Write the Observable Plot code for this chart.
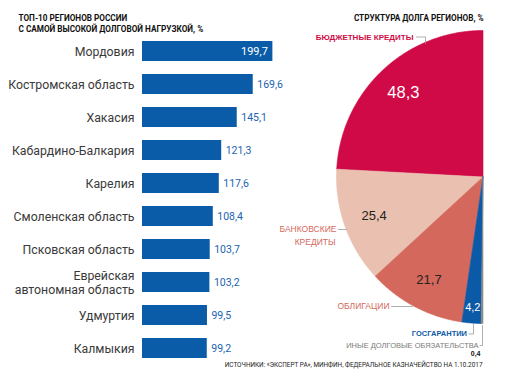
<!DOCTYPE html>
<html>
<head>
<meta charset="utf-8">
<script src="https://cdn.jsdelivr.net/npm/d3@7"></script>
<script src="https://cdn.jsdelivr.net/npm/@observablehq/plot@0.6"></script>
<style>
  html, body { margin: 0; padding: 0; background: #fff; }
  #chart { position: relative; width: 509px; height: 380px; overflow: hidden; }
  #chart svg { position: absolute; left: 0; top: 0; background: transparent; }
</style>
</head>
<body>
<div id="chart"></div>
<script>
// ---- Data: top-10 regions by debt load, %
const regions = [
  "Мордовия", "Костромская область", "Хакасия", "Кабардино-Балкария", "Карелия",
  "Смоленская область", "Псковская область", "Еврейская\nавтономная область", "Удмуртия", "Калмыкия"
];
const debtLoad = [199.7, 169.6, 145.1, 121.3, 117.6, 108.4, 103.7, 103.2, 99.5, 99.2];

// ---- Data: structure of regional debt, %
const debtTypes = ["БЮДЖЕТНЫЕ КРЕДИТЫ", "БАНКОВСКИЕ КРЕДИТЫ", "ОБЛИГАЦИИ", "ГОСГАРАНТИИ", "ИНЫЕ ДОЛГОВЫЕ ОБЯЗАТЕЛЬСТВА"];
const debtShares = [48.3, 25.4, 21.7, 4.2, 0.4];

// ---- Texts
const leftTitle = "ТОП-10 РЕГИОНОВ РОССИИ\nС САМОЙ ВЫСОКОЙ ДОЛГОВОЙ НАГРУЗКОЙ, %";
const rightTitle = "СТРУКТУРА ДОЛГА РЕГИОНОВ, %";
const sourceText = "ИСТОЧНИКИ: «ЭКСПЕРТ РА», МИНФИН, ФЕДЕРАЛЬНОЕ КАЗНАЧЕЙСТВО НА 1.10.2017";

// ---- Styles
const NARROW = "Roboto, 'Liberation Sans', sans-serif";
const SANS = "'Liberation Sans', Arial, sans-serif";
const barColor = "#0a5ba8";
const sliceColors = ["#cf0a46", "#eac1b0", "#d4685c", "#0b5aa7", "#8a8a8a"];
const fmt = v => v.toFixed(1).replace(".", ",");

const barData = regions.map((r, i) => ({region: r, value: debtLoad[i], label: fmt(debtLoad[i]), first: i === 0}));

const bars = Plot.plot({
  width: 300,
  height: 380,
  marginLeft: 142,
  marginRight: 0,
  marginTop: 26.9,
  marginBottom: 7.6,
  x: {domain: [0, 242], axis: null},
  y: {domain: regions, padding: 0.407, axis: null},
  style: {fontFamily: NARROW, background: "transparent"},
  marks: [
    Plot.barX(barData, {x: "value", y: "region", fill: barColor}),
    Plot.text(barData, {frameAnchor: "left", y: "region", text: "region", textAnchor: "end", dx: -8,
      fontSize: 12.3, fill: "#3a3a3a", lineHeight: 1.14, fontFamily: NARROW}),
    Plot.text(barData.filter(d => !d.first), {x: "value", y: "region", text: "label", textAnchor: "start", dx: 4,
      fontSize: 10.5, fill: "#1b63b0", fontFamily: NARROW}),
    Plot.text(barData.filter(d => d.first), {x: "value", y: "region", text: "label", textAnchor: "end", dx: -5,
      fontSize: 11, fill: "#fff", fontFamily: NARROW})
  ]
});

// ---- Half-pie geometry (layout constants)
const cx = 482.5, cy = 176.5, R = 146.5;
const total = d3.sum(debtShares);
const pt = (a, r) => [cx - r * Math.sin(a), cy - r * Math.cos(a)];
let acc = 0;
const slicePts = [];
const sliceInfo = [];
debtTypes.forEach((name, i) => {
  const a0 = acc / total * Math.PI;
  acc += debtShares[i];
  const a1 = acc / total * Math.PI;
  const steps = Math.max(2, Math.ceil((a1 - a0) / 0.01));
  slicePts.push({name, x: cx, y: cy});
  for (let k = 0; k <= steps; k++) {
    const a = a0 + (a1 - a0) * k / steps;
    const [x, y] = pt(a, R);
    slicePts.push({name, x, y});
  }
  slicePts.push({name, x: cx, y: cy});
  sliceInfo.push({name, value: debtShares[i], a0, a1, mid: (a0 + a1) / 2});
});

const valueLabels = sliceInfo.slice(0, 4).map((s, i) => {
  const rf = i === 3 ? 0.89 : 0.79;
  const [x, y] = pt(s.mid, R * rf);
  return {x, y, text: fmt(s.value), size: [16.5, 13, 13, 11][i], color: ["#fff", "#222", "#222", "#fff"][i]};
});

// label layout
const catLabels = [
  {text: "БЮДЖЕТНЫЕ КРЕДИТЫ", x: 413, y: 36.5, color: "#cf0a46", weight: "bold", size: 8, ls: "0.7px", anchor: "end"},
  {text: "БАНКОВСКИЕ", x: 336, y: 229, color: "#d4685c", weight: "normal", size: 8.5, ls: "1.3px", anchor: "end"},
  {text: "КРЕДИТЫ", x: 335, y: 241.5, color: "#d4685c", weight: "normal", size: 8.5, ls: "1.3px", anchor: "end"},
  {text: "ОБЛИГАЦИИ", x: 389, y: 306, color: "#d4685c", weight: "normal", size: 8.5, ls: "1.2px", anchor: "end"},
  {text: "ГОСГАРАНТИИ", x: 466.5, y: 333.5, color: "#0b5aa7", weight: "bold", size: 7.5, ls: "0.2px", anchor: "end"},
  {text: "ИНЫЕ ДОЛГОВЫЕ ОБЯЗАТЕЛЬСТВА", x: 478, y: 345, color: "#7a7a7a", weight: "normal", size: 7.5, ls: "0.3px", anchor: "end"},
  {text: "0,4", x: 480, y: 353.5, color: "#111", weight: "bold", size: 7, ls: "0px", anchor: "end"}
];

const leader = [
  {id: "b", x: 416, y: 36.5}, {id: "b", x: 425, y: 36.5}, {id: "b", x: 425, y: 43},
  {id: "k", x: 338, y: 229}, {id: "k", x: 346, y: 229},
  {id: "o", x: 391, y: 306}, {id: "o", x: 412, y: 306},
  {id: "g", x: 468.5, y: 333.5}, {id: "g", x: 473, y: 333.5}, {id: "g", x: 473, y: 324},
  {id: "i", x: 479.5, y: 345}, {id: "i", x: 482, y: 345}, {id: "i", x: 482, y: 325}
];

const pie = Plot.plot({
  width: 509,
  height: 380,
  margin: 0,
  x: {domain: [0, 509], range: [0, 509], axis: null},
  y: {domain: [0, 380], range: [0, 380], axis: null},
  color: {domain: debtTypes, range: sliceColors},
  style: {background: "transparent"},
  marks: [
    Plot.line(slicePts, {x: "x", y: "y", z: "name", fill: "name", stroke: "name", strokeWidth: 0.6, curve: "linear"}),
    Plot.line(leader, {x: "x", y: "y", z: "id", stroke: "#9a9a9a", strokeWidth: 0.8}),
    Plot.text(valueLabels, {x: "x", y: "y", text: "text", fontSize: d => d.size, fill: "color", fontFamily: SANS}),
    ...catLabels.map(l => Plot.text([l], {x: "x", y: "y", text: "text", fill: l.color, fontSize: l.size,
      fontWeight: l.weight, textAnchor: l.anchor, fontFamily: SANS, letterSpacing: l.ls})),
    Plot.text([leftTitle], {x: 18, y: 22.5, text: d => d, textAnchor: "start", fontSize: 8.2, fontWeight: "bold",
      fill: "#111", lineHeight: 1.3, fontFamily: NARROW}),
    Plot.text([rightTitle], {x: 483, y: 17.5, text: d => d, textAnchor: "end", fontSize: 8.2, fontWeight: "bold",
      fill: "#111", fontFamily: NARROW}),
    Plot.text([sourceText], {x: 482, y: 364.5, text: d => d, textAnchor: "end", fontSize: 6.4,
      fill: "#222", fontFamily: NARROW})
  ]
});

const root = document.getElementById("chart");
root.appendChild(bars);
root.appendChild(pie);
</script>
</body>
</html>
